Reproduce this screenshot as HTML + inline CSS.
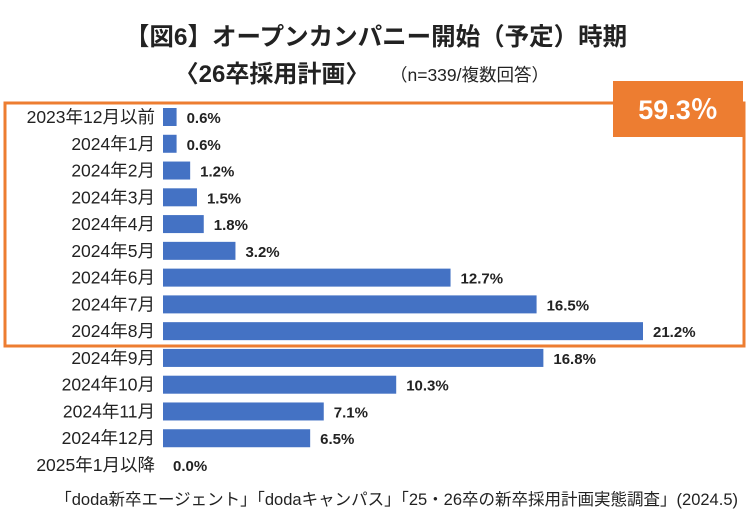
<!DOCTYPE html>
<html><head><meta charset="utf-8"><style>
body{margin:0;background:#fff;width:752px;height:525px;overflow:hidden;font-family:"Liberation Sans","Noto Sans CJK JP",sans-serif}
</style></head><body>
<svg width="752" height="525" xmlns="http://www.w3.org/2000/svg">
<text x="376" y="45" text-anchor="middle" font-size="24.5" font-weight="bold" fill="#222" font-family="Liberation Sans, Noto Sans CJK JP, sans-serif">【図6】オープンカンパニー開始（予定）時期</text>
<text x="272" y="82" text-anchor="middle" font-size="24" font-weight="bold" fill="#222" font-family="Liberation Sans, Noto Sans CJK JP, sans-serif">〈26卒採用計画〉</text>
<text x="390" y="81" font-size="17.5" fill="#222" font-family="Liberation Sans, Noto Sans CJK JP, sans-serif">（n=339/複数回答）</text>
<g id="bars"></g>
<rect x="5" y="103" width="739" height="243" fill="none" stroke="#ED7D31" stroke-width="3"/>
<rect x="613" y="81" width="130" height="56" fill="#ED7D31"/>
<text x="678" y="119" text-anchor="middle" font-size="27" font-weight="bold" fill="#fff" font-family="Liberation Sans, Noto Sans CJK JP, sans-serif">59.3％</text>
<text x="738" y="505" text-anchor="end" font-size="16.5" fill="#222" font-family="Liberation Sans, Noto Sans CJK JP, sans-serif">「doda新卒エージェント」「dodaキャンパス」「25・26卒の新卒採用計画実態調査」(2024.5)</text>
</svg>
<script>
const categories=["2023年12月以前","2024年1月","2024年2月","2024年3月","2024年4月","2024年5月","2024年6月","2024年7月","2024年8月","2024年9月","2024年10月","2024年11月","2024年12月","2025年1月以降"];
const values=[0.6,0.6,1.2,1.5,1.8,3.2,12.7,16.5,21.2,16.8,10.3,7.1,6.5,0.0];
const x0=163,pxPer=480/21.2,y0=117,step=26.77,bh=18;
const xs=v=>x0+v*pxPer, ys=i=>y0+i*step;
const g=document.getElementById('bars');const NS="http://www.w3.org/2000/svg";
categories.forEach((c,i)=>{
 const y=ys(i);
 const t=document.createElementNS(NS,'text');
 
 
 t.setAttribute('x',155);t.setAttribute('y',y+6);t.setAttribute('text-anchor','end');
 t.setAttribute('font-size','17.5');t.setAttribute('fill','#222');
 t.setAttribute('font-family','Liberation Sans, Noto Sans CJK JP, sans-serif');
 t.textContent=c;g.appendChild(t);
 const r=document.createElementNS(NS,'rect');
 
 
 r.setAttribute('x',x0);r.setAttribute('y',y-bh/2);r.setAttribute('width',Math.max(0,xs(values[i])-x0));r.setAttribute('height',bh);r.setAttribute('fill','#4472C4');
 g.appendChild(r);
 const v=document.createElementNS(NS,'text');
 
 
 v.setAttribute('x',xs(values[i])+10);v.setAttribute('y',y+6);
 v.setAttribute('font-size','15');v.setAttribute('font-weight','bold');v.setAttribute('fill','#222');
 v.setAttribute('font-family','Liberation Sans, sans-serif');
 v.textContent=values[i].toFixed(1)+'%';g.appendChild(v);
});
</script>
</body></html>
